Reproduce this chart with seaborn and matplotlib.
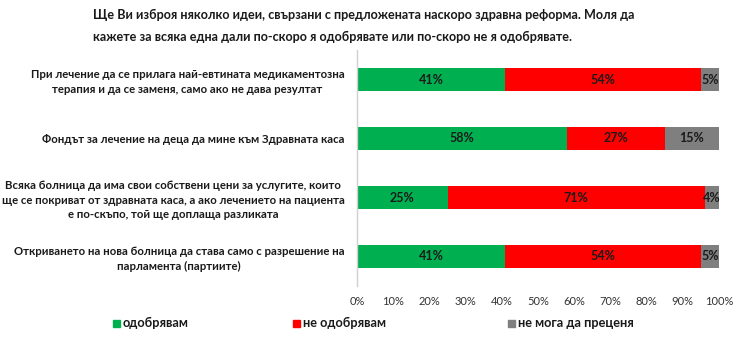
import matplotlib
matplotlib.use("Agg")
import matplotlib.pyplot as plt
import seaborn as sns
import pandas as pd
import numpy as np

statements = [
    "При лечение да се прилага най-евтината медикаментозна\nтерапия и да се заменя, само ако не дава резултат",
    "Фондът за лечение на деца да мине към Здравната каса",
    "Всяка болница да има свои собствени цени за услугите, които\nще се покриват от здравната каса, а ако лечението на пациента\nе по-скъпо, той ще доплаща разликата",
    "Откриването на нова болница да става само с разрешение на\nпарламента (партиите)",
]
approve = [41, 58, 25, 41]
disapprove = [54, 27, 71, 54]
cannot_say = [5, 15, 4, 5]

series_names = ["одобрявам", "не одобрявам", "не мога да преценя"]
series_colors = ["#00B050", "#FF0000", "#7F7F7F"]
x_ticks = [0, 10, 20, 30, 40, 50, 60, 70, 80, 90, 100]

title = ("Ще Ви изброя няколко идеи, свързани с предложената наскоро здравна реформа. Моля да\n"
         "кажете за всяка една дали по-скоро я одобрявате или по-скоро не я одобрявате.")

sns.set_theme(style="white")
plt.rcParams["font.family"] = ["Lato", "DejaVu Sans"]

df = pd.DataFrame({
    "statement": statements,
    series_names[0]: approve,
    series_names[1]: disapprove,
    series_names[2]: cannot_say,
})
values = df[series_names].to_numpy(dtype=float)
cum = np.cumsum(values, axis=1)

fig = plt.figure(figsize=(7.4, 3.41), dpi=100)
ax = fig.add_axes([357 / 740, 1 - 286 / 341, (719 - 357) / 740, (286 - 50) / 341])

# stacked bars: draw cumulative totals from the widest segment down
for k in range(len(series_names) - 1, -1, -1):
    sns.barplot(x=cum[:, k], y=df["statement"], orient="h", color=series_colors[k],
                width=0.39, saturation=1, ax=ax, linewidth=0)

for i in range(len(df)):
    left = 0.0
    for k in range(len(series_names)):
        v = values[i, k]
        ax.text(left + v / 2, i, f"{int(v)}%", ha="center", va="center",
                fontsize=9, fontweight="bold", color="#1a1a1a")
        left += v

ax.set_xlim(0, 100)
ax.set_ylim(3.5, -0.5)
ax.set_xticks(x_ticks)
ax.set_xticklabels([f"{t}%" for t in x_ticks], fontsize=8, color="#333333")
ax.set_xlabel("")
ax.set_ylabel("")
ax.tick_params(axis="x", length=0, pad=7)
ax.tick_params(axis="y", length=0, pad=9)
for lbl in ax.get_yticklabels():
    lbl.set_fontweight("bold")
    lbl.set_fontsize(8.2)
    lbl.set_multialignment("center")
    lbl.set_color("#1a1a1a")
    lbl.set_linespacing(1.35)
for s in ["top", "right", "bottom"]:
    ax.spines[s].set_visible(False)
ax.spines["left"].set_color("#d0d0d0")
ax.spines["left"].set_linewidth(1)

fig.text(93 / 740, 1 - 9 / 341, title, ha="left", va="top", fontsize=9.05,
         fontweight="bold", color="#1a1a1a", linespacing=1.95)

# legend entries laid out across the bottom
legend_x = [113, 293, 508]
for name, color, lx in zip(series_names, series_colors, legend_x):
    fig.patches.append(plt.Rectangle((lx / 740, 1 - 327 / 341), 7 / 740, 7 / 341,
                                     transform=fig.transFigure, color=color, figure=fig))
    fig.text((lx + 10) / 740, 1 - 323 / 341, name, ha="left", va="center",
             fontsize=9.2, fontweight="bold", color="#1a1a1a")

fig.savefig("out.png", dpi=100)
